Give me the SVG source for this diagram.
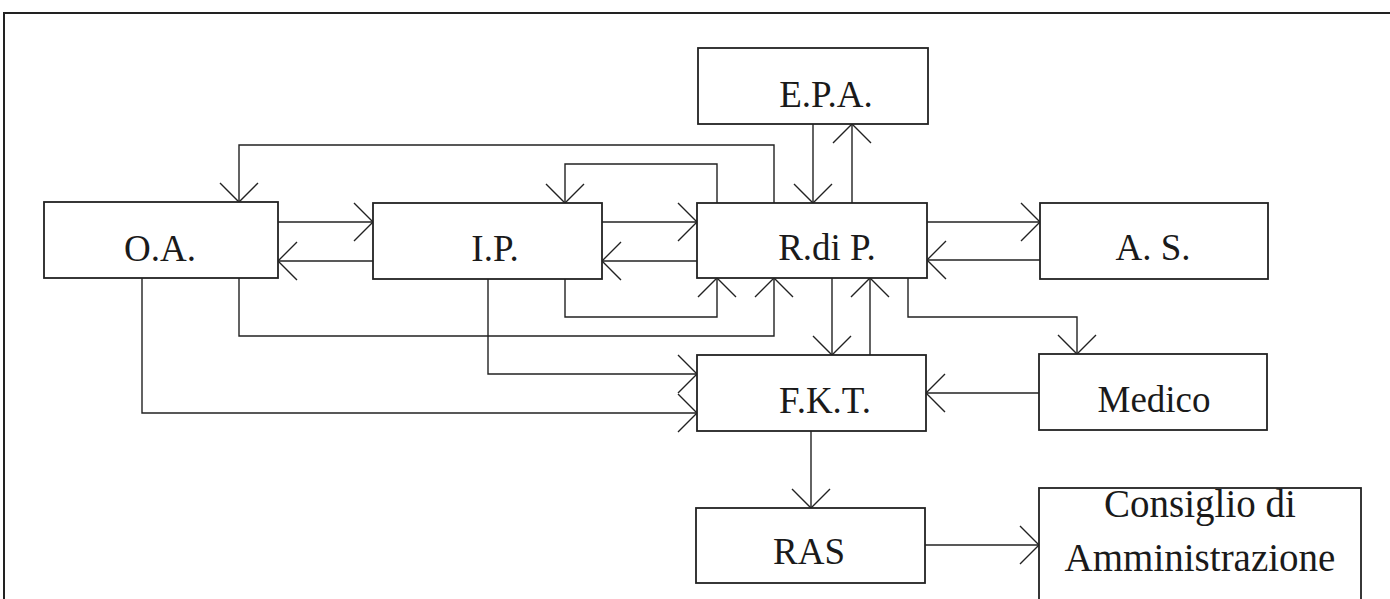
<svg xmlns="http://www.w3.org/2000/svg" width="1390" height="599" viewBox="0 0 1390 599">
  <defs>
    <marker id="arrow" markerUnits="userSpaceOnUse" viewBox="-22 -22 26 44" markerWidth="26" markerHeight="44" refX="0" refY="0" orient="auto">
      <path d="M-19,-19 L0,0 L-19,19" fill="none" stroke="#222" stroke-width="1.4"/>
    </marker>
    <style>
      .box { fill: #fff; stroke: #222; stroke-width: 1.8; }
      .lbl { font-family: "Liberation Serif", "Times New Roman", serif; font-size: 37px; fill: #1a1a1a; text-anchor: middle; }
      .big { font-size: 39px; }
      .edge { fill: none; stroke: #222; stroke-width: 1.4; marker-end: url(#arrow); }
      .frame { fill: none; stroke: #222; stroke-width: 2; }
    </style>
  </defs>
  <rect width="1390" height="599" fill="#fff"/>

  <!-- outer frame (top and left rules) -->
  <path class="frame" d="M4,599 V13 H1390"/>

  <!-- connectors -->
  <g id="connectors">
    <path class="edge" d="M278,222 H373"/>
    <path class="edge" d="M373,261 H278"/>
    <path class="edge" d="M602,222 H697"/>
    <path class="edge" d="M697,261 H602"/>
    <path class="edge" d="M927,222 H1040"/>
    <path class="edge" d="M1040,260 H927"/>
    <path class="edge" d="M774,203 V145 H239 V202"/>
    <path class="edge" d="M717,203 V164 H565 V203"/>
    <path class="edge" d="M813,124 V203"/>
    <path class="edge" d="M852,203 V124"/>
    <path class="edge" d="M565,279 V317 H717 V278"/>
    <path class="edge" d="M239,278 V336 H774 V278"/>
    <path class="edge" d="M488,279 V374 H697"/>
    <path class="edge" d="M142,278 V413 H697"/>
    <path class="edge" d="M832,278 V355"/>
    <path class="edge" d="M870,355 V278"/>
    <path class="edge" d="M908,278 V317 H1077 V354"/>
    <path class="edge" d="M1039,393 H926"/>
    <path class="edge" d="M811,431 V508"/>
    <path class="edge" d="M925,545 H1039"/>
  </g>

  <g id="node-epa">
    <rect class="box" x="698" y="48" width="230" height="76"/>
    <text class="lbl" x="826" y="107">E.P.A.</text>
  </g>
  <g id="node-oa">
    <rect class="box" x="44" y="202" width="234" height="76"/>
    <text class="lbl" x="160" y="261">O.A.</text>
  </g>
  <g id="node-ip">
    <rect class="box" x="373" y="203" width="229" height="76"/>
    <text class="lbl" x="495" y="261">I.P.</text>
  </g>
  <g id="node-rdp">
    <rect class="box" x="697" y="203" width="230" height="75"/>
    <text class="lbl" x="827" y="260">R.di P.</text>
  </g>
  <g id="node-as">
    <rect class="box" x="1040" y="203" width="228" height="76"/>
    <text class="lbl" x="1153" y="260">A. S.</text>
  </g>
  <g id="node-fkt">
    <rect class="box" x="697" y="355" width="229" height="76"/>
    <text class="lbl" x="825" y="413">F.K.T.</text>
  </g>
  <g id="node-medico">
    <rect class="box" x="1039" y="354" width="228" height="76"/>
    <text class="lbl" x="1154" y="412">Medico</text>
  </g>
  <g id="node-ras">
    <rect class="box" x="696" y="508" width="229" height="75"/>
    <text class="lbl" x="809" y="564">RAS</text>
  </g>
  <g id="node-consiglio">
    <rect class="box" x="1039" y="488" width="322" height="130"/>
    <text class="lbl big" x="1200" y="517">Consiglio di</text>
    <text class="lbl big" x="1200" y="571">Amministrazione</text>
  </g>
</svg>
